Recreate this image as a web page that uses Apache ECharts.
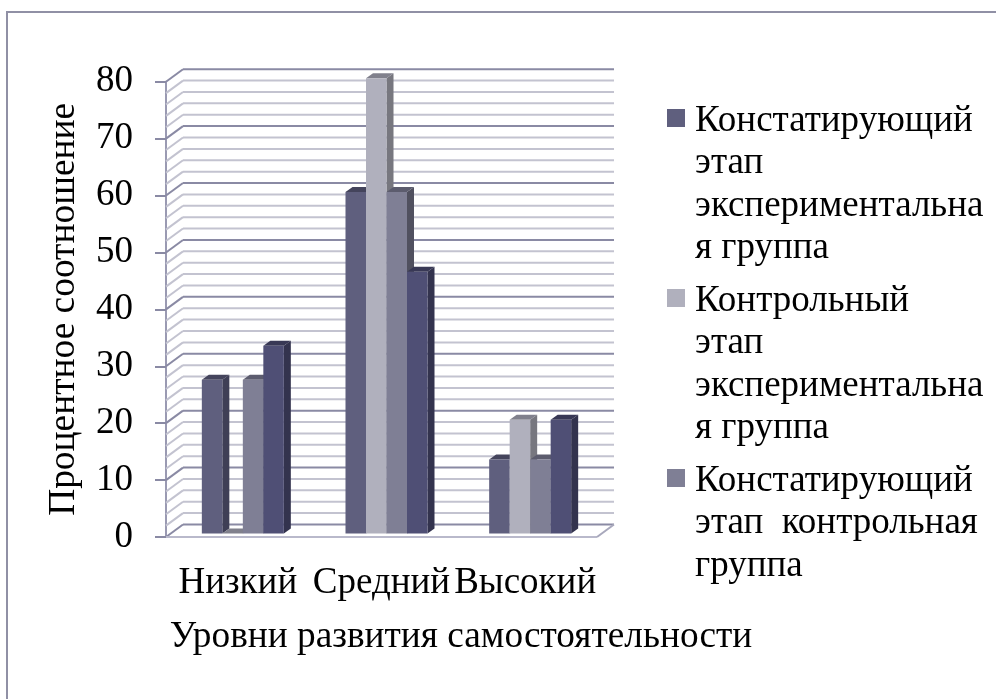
<!DOCTYPE html>
<html><head><meta charset="utf-8">
<style>html,body{margin:0;padding:0;background:#fff}#c{width:996px;height:699px}</style>
<script src="https://cdn.jsdelivr.net/npm/echarts@6/dist/echarts.min.js"></script>
</head><body><div id="c"></div>
<script>
const categories = ['Низкий', 'Средний', 'Высокий'];
const seriesNames = [
  'Констатирующий\nэтап\nэкспериментальна\nя группа',
  'Контрольный\nэтап\nэкспериментальна\nя группа',
  'Констатирующий\nэтап\u00A0\u00A0контрольная\nгруппа\n',
  'Контрольный этап контрольная группа'
];
const constatExp = [27, 60, 13];
const controlExp = [0, 80, 20];
const constatCtl = [27, 60, 13];
const controlCtl = [33, 46, 20];
const wallTicks = [0,2,4,6,8,10,12,14,16,18,20,22,24,26,28,30,32,34,36,38,40,42,44,46,48,50,52,54,56,58,60,62,64,66,68,70,72,74,76,78,80];
const FONT = '"Liberation Serif","Times New Roman",serif';
const barValues = [constatExp, controlExp, constatCtl, controlCtl];
const faces = [
  {front:'#5f5f7e', side:'#3f3f56', top:'#44445c'},
  {front:'#b0b0bd', side:'#77777f', top:'#80808c'},
  {front:'#7f7f95', side:'#50505f', top:'#5c5c6e'},
  {front:'#4f4f75', side:'#33334e', top:'#383855'}
];
const BAR_W = 20.5, DX = 7, DY = 5, SHIFT_X = 5, SHIFT_Y = 3.5, WALL_X = 17, WALL_Y = 12.5;

function poly(pts, fill){ return {type:'polygon', shape:{points:pts}, style:{fill:fill}}; }
function line(x1,y1,x2,y2,color,w){ return {type:'line', shape:{x1,y1,x2,y2}, style:{stroke:color, lineWidth:w, fill:null}}; }

function barRender(si){
  return function(params, api){
    const c = api.coord([api.value(0), api.value(1)]);
    const base = api.coord([api.value(0), 0]);
    const x0 = c[0] - 2*BAR_W + SHIFT_X + si*BAR_W;
    const x1 = x0 + BAR_W;
    const yt = c[1] - SHIFT_Y, yb = base[1] - SHIFT_Y;
    const f = faces[si];
    return {type:'group', children:[
      poly([[x1,yt],[x1+DX,yt-DY],[x1+DX,yb-DY],[x1,yb]], f.side),
      poly([[x0,yt],[x0+DX,yt-DY],[x1+DX,yt-DY],[x1,yt]], f.top),
      {type:'rect', shape:{x:x0,y:yt,width:BAR_W,height:yb-yt}, style:{fill:f.front}}
    ]};
  };
}
function wallRender(params, api){
  const v = api.value(1);
  const y = api.coord([0, v])[1];
  const cs = params.coordSys;
  const major = v % 10 === 0;
  const color = major ? '#8a8aa4' : '#c3c3d0';
  const left = cs.x, right = cs.x + cs.width;
  const kids = [
    line(left, y, left+WALL_X, y-WALL_Y, color, 2),
    line(left+WALL_X, y-WALL_Y, right+WALL_X, y-WALL_Y, color, 2)
  ];
  if (v === 0) {
    kids.push(line(left, y, right, y, '#b9b9cb', 2));
    kids.push(line(right, y, right+WALL_X, y-WALL_Y, '#a8a8bc', 2));
  }
  return {type:'group', children:kids};
}

const chart = echarts.init(document.getElementById('c'), null, {renderer:'canvas'});
chart.setOption({
  animation:false,
  backgroundColor:'#fff',
  graphic:[{type:'rect', z:-1, shape:{x:7,y:12,width:1020,height:720}, style:{fill:'#fff',stroke:'#9090a5',lineWidth:2}}],
  grid:{left:166, top:81.7, width:431, height:455.3, containLabel:false},
  legend:{
    left:662, top:95, orient:'vertical', itemWidth:18, itemHeight:170, itemGap:10,
    data:seriesNames.slice(0,3).map(n => ({name:n, icon:'path://M0 0L18 0M0 9H18V27H0ZM0 170L18 170'})),
    textStyle:{fontFamily:FONT, fontSize:37, lineHeight:42.5, color:'#000', padding:[0,0,0,5]},
    selectedMode:false
  },
  xAxis:{
    type:'category', data:categories,
    axisLine:{show:false}, axisTick:{show:false},
    axisLabel:{fontFamily:FONT, fontSize:37, color:'#000', margin:28, interval:0},
    name:'Уровни развития самостоятельности', nameLocation:'middle', nameGap:82,
    nameTextStyle:{fontFamily:FONT, fontSize:37.3, color:'#000', padding:[0,0,0,159]}
  },
  yAxis:{
    type:'value', min:0, max:80, interval:10,
    axisLine:{show:true, lineStyle:{color:'#9a9ab2', width:2}},
    axisTick:{show:true, length:11, lineStyle:{color:'#8a8aa4', width:2}},
    axisLabel:{fontFamily:FONT, fontSize:37, color:'#000', margin:33},
    splitLine:{show:false},
    name:'Процентное соотношение', nameLocation:'middle', nameGap:83, nameRotate:90,
    nameMoveOverlap:false,
    nameTextStyle:{fontFamily:FONT, fontSize:37.4, color:'#000'}
  },
  series:[
    {type:'custom', name:'walls', silent:true, z:1, encode:{x:0,y:1},
     data:wallTicks.map(v=>[0,v]), renderItem:wallRender},
    ...barValues.map((vals,si)=>({
      type:'custom', name:seriesNames[si], z:2+si, encode:{x:0,y:1},
      itemStyle:{color:faces[si].front},
      data:vals.map((v,i)=>[i,v]), renderItem:barRender(si)
    }))
  ]
});
</script></body></html>
